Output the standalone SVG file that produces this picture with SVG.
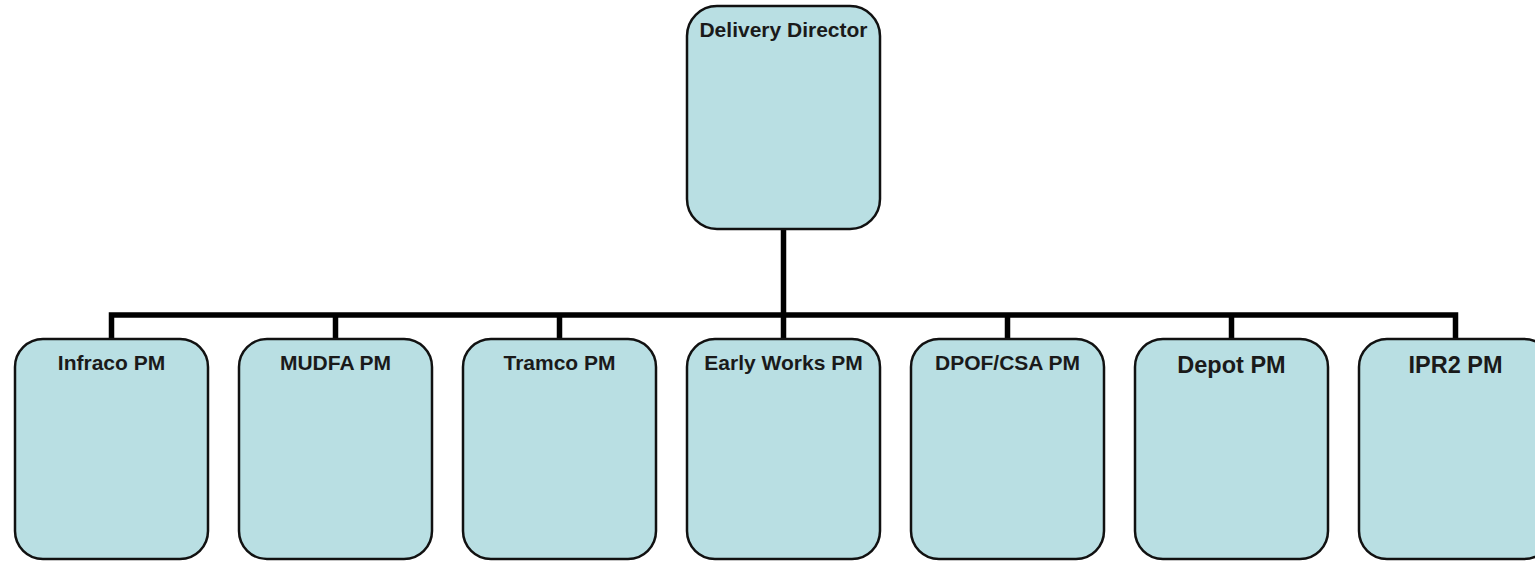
<svg xmlns="http://www.w3.org/2000/svg" width="1535" height="562" viewBox="0 0 1535 562">
  <style>
    .box { fill: #b9dfe3; stroke: #111; stroke-width: 2.5; }
    .label { font-family: "Liberation Sans", Arial, sans-serif; font-weight: bold; font-size: 21px; fill: #1a1a1a; text-anchor: middle; }
    .big { font-size: 23.5px; }
    .wire { fill: none; stroke: #000; stroke-width: 5.5; stroke-linejoin: miter; stroke-linecap: butt; }
  </style>
  <rect width="1535" height="562" fill="#ffffff"/>

  <!-- reporting lines -->
  <g id="connectors">
    <path class="wire" d="M783.5,229 V315"/>
    <path class="wire" d="M111.5,339 V315 H1455.5 V339"/>
    <path class="wire" d="M335.5,315 V339"/>
    <path class="wire" d="M559.5,315 V339"/>
    <path class="wire" d="M783.5,315 V339"/>
    <path class="wire" d="M1007.5,315 V339"/>
    <path class="wire" d="M1231.5,315 V339"/>
  </g>

  <g id="delivery-director">
    <rect class="box" x="687" y="6" width="193" height="223" rx="30" ry="30"/>
    <text class="label" x="783.5" y="37">Delivery Director</text>
  </g>

  <g id="infraco-pm">
    <rect class="box" x="15" y="339" width="193" height="220" rx="28" ry="28"/>
    <text class="label" x="111.5" y="370">Infraco PM</text>
  </g>

  <g id="mudfa-pm">
    <rect class="box" x="239" y="339" width="193" height="220" rx="28" ry="28"/>
    <text class="label" x="335.5" y="370">MUDFA PM</text>
  </g>

  <g id="tramco-pm">
    <rect class="box" x="463" y="339" width="193" height="220" rx="28" ry="28"/>
    <text class="label" x="559.5" y="370">Tramco PM</text>
  </g>

  <g id="early-works-pm">
    <rect class="box" x="687" y="339" width="193" height="220" rx="28" ry="28"/>
    <text class="label" x="783.5" y="370">Early Works PM</text>
  </g>

  <g id="dpof-csa-pm">
    <rect class="box" x="911" y="339" width="193" height="220" rx="28" ry="28"/>
    <text class="label" x="1007.5" y="370">DPOF/CSA PM</text>
  </g>

  <g id="depot-pm">
    <rect class="box" x="1135" y="339" width="193" height="220" rx="28" ry="28"/>
    <text class="label big" x="1231.5" y="373">Depot PM</text>
  </g>

  <g id="ipr2-pm">
    <rect class="box" x="1359" y="339" width="193" height="220" rx="28" ry="28"/>
    <text class="label big" x="1455.5" y="373">IPR2 PM</text>
  </g>
</svg>
